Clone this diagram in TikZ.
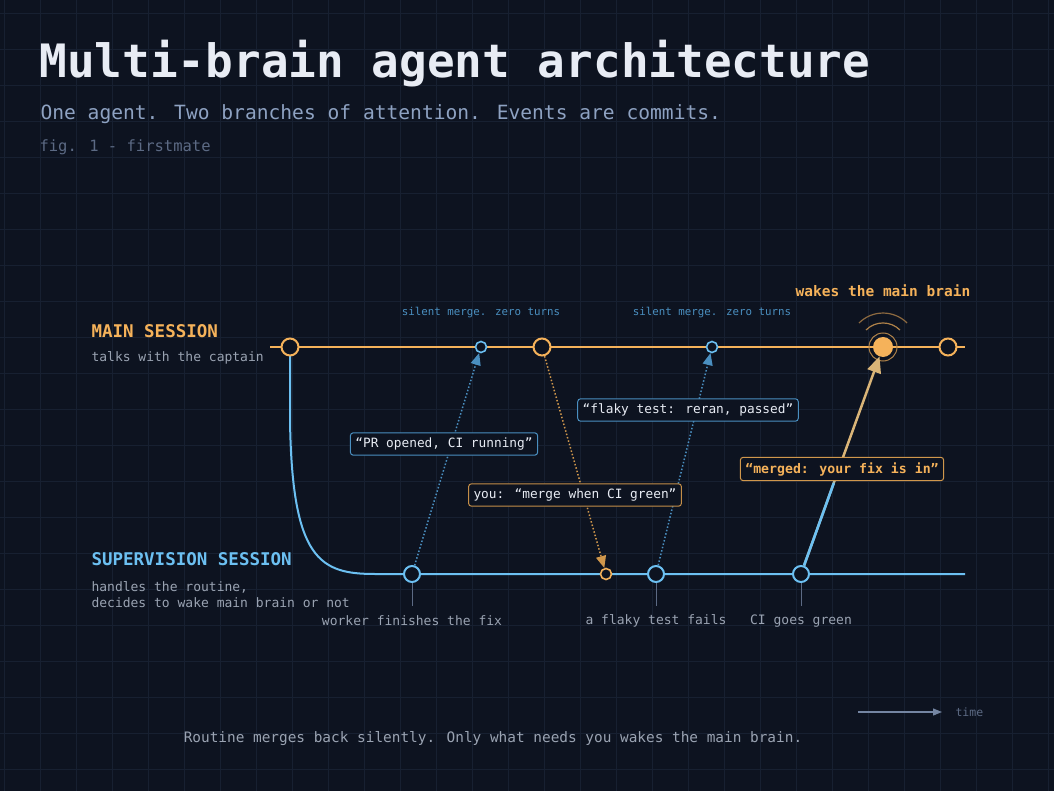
\documentclass[tikz,border=0pt]{standalone}
\usepackage{fontspec}
\setmainfont{DejaVu Sans Mono}
\usetikzlibrary{arrows.meta,calc}
\definecolor{bg}{HTML}{0D1320}
\definecolor{gridc}{HTML}{172031}
\definecolor{org}{HTML}{F5B25A}
\definecolor{blu}{HTML}{6CC0F2}
\definecolor{dblu}{HTML}{4A8FC0}
\definecolor{txt}{HTML}{E8ECF4}
\definecolor{sub}{HTML}{8EA2C2}
\definecolor{dim}{HTML}{5C6A84}
\definecolor{gr}{HTML}{9AA3B2}
\definecolor{boxbg}{HTML}{0D1320}
\tikzset{
 x=1pt,y=-1pt,
 big/.style={circle,draw=#1,line width=2pt,fill=bg,minimum size=17pt,inner sep=0},
 small/.style={circle,draw=#1,line width=1.6pt,fill=bg,minimum size=11pt,inner sep=0},
 msg/.style={draw=#1,text=txt,rounded corners=3pt,fill=boxbg,line width=1pt,font=\fontsize{12.8}{15}\selectfont,inner sep=5pt},
 lbl/.style={font=\fontsize{13}{15}\selectfont,text=gr},
 tiny/.style={font=\fontsize{10.8}{12}\selectfont,text=dblu},
}
\begin{document}
\begin{tikzpicture}
\fill[bg] (0,0) rectangle (1054,791);
\useasboundingbox (0,0) rectangle (1054,791);
\foreach \i in {0,36,...,1054} \draw[gridc,line width=0.5pt] (\i+4,0) -- (\i+4,791);
\foreach \i in {0,36,...,791} \draw[gridc,line width=0.5pt] (0,\i+13) -- (1054,\i+13);
% titles
\node[anchor=west,text=txt,font=\fontsize{46}{50}\selectfont\bfseries] (title) at (36,64) {Multi-brain agent architecture};
\node[anchor=west,text=sub,font=\fontsize{19.6}{22}\selectfont] (subt) at (37,114) {One agent. Two branches of attention. Events are commits.};
\node[anchor=west,text=dim,font=\fontsize{15.5}{17}\selectfont] (fig) at (36,147) {fig. 1 - firstmate};
% lanes labels
\node[anchor=west,text=org,font=\fontsize{17.5}{20}\selectfont\bfseries] (ms) at (88,331) {MAIN SESSION};
\node[anchor=west,lbl] (ms2) at (88,358) {talks with the captain};
\node[anchor=west,text=blu,font=\fontsize{17.5}{20}\selectfont\bfseries] (ss) at (88,559) {SUPERVISION SESSION};
\node[anchor=west,lbl,align=left] (ss2) at (88,595) {handles the routine,\\[1pt]decides to wake main brain or not};
% lines
\coordinate (mL) at (270,347); \coordinate (mR) at (965,347);
\coordinate (sR) at (965,574);
\draw[org,line width=2pt] (mL) -- (mR);
\draw[blu,line width=2pt] (290,347) -- (290,420) .. controls (292,560) and (320,574) .. (375,574) -- (sR);
% ticks
\foreach \x in {412,656,801} \draw[dim,line width=1pt] (\x,574) -- (\x,606);
% nodes
\node[big=org] (m1) at (290,347) {};
\node[small=blu] (m2) at (481,347) {};
\node[big=org] (m3) at (542,347) {};
\node[small=blu] (m4) at (712,347) {};
\node[big=org] (m6) at (948,347) {};
\draw[org!70!bg,line width=1pt] (883,347) circle (14);
\draw[org!70!bg,line width=1.2pt] (866,330) arc[start angle=-135,end angle=-45,radius=24];
\draw[org!55!bg,line width=1.2pt] (859,323) arc[start angle=-135,end angle=-45,radius=34];
\node[circle,fill=org,minimum size=20pt,inner sep=0] (m5) at (883,347) {};
\node[big=blu,minimum size=16pt] (s1) at (412,574) {};
\node[small=org] (s2) at (606,574) {};
\node[big=blu,minimum size=16pt] (s3) at (656,574) {};
\node[big=blu,minimum size=16pt] (s4) at (801,574) {};
% arrows
\draw[dblu,line width=1.5pt,dotted,-{Triangle[width=10pt,length=12pt]}] (s1) -- (m2);
\draw[dblu,line width=1.5pt,dotted,-{Triangle[width=10pt,length=12pt]}] (s3) -- (m4);
\draw[org!85!black,line width=1.5pt,dotted,-{Triangle[width=10pt,length=12pt]}] (m3) -- (s2);
\coordinate (mid) at (842,460);
\draw[blu!50!org,line width=2.5pt] (s4) -- (mid);
\draw[blu,line width=2.5pt] (s4) -- ($(s4)!0.4!(m5)$);
\draw[org!80!blu,line width=2.5pt,-{Triangle[width=14pt,length=16pt]}] (mid) -- (m5);
% top labels
\node[tiny] (t1) at (481,313) {silent merge. zero turns};
\node[tiny] (t2) at (712,313) {silent merge. zero turns};
\node[text=org,font=\fontsize{14.5}{16}\selectfont\bfseries] (wk) at (883,291) {wakes the main brain};
% message boxes
\node[msg=dblu] (b1) at (444,444) {“PR opened, CI running”};
\node[msg=dblu] (b3) at (688,410) {“flaky test: reran, passed”};
\node[msg=org!80!black] (b2) at (575,495) {you: “merge when CI green”};
\node[msg=org!85!black,text=org,font=\fontsize{13.2}{15}\selectfont\bfseries] (b4) at (842,469) {“merged: your fix is in”};
% bottom labels
\node[lbl] (l1) at (412,621) {worker finishes the fix};
\node[lbl] (l2) at (656,621) {a flaky test fails};
\node[lbl] (l3) at (801,621) {CI goes green};
\coordinate (ta) at (858,712); \coordinate (tb) at (942,712);
\draw[sub!80!bg,line width=1.2pt,-{Triangle[width=7pt,length=9pt]}] (ta) -- (tb);
\node[anchor=west,text=dim,font=\fontsize{11.5}{13}\selectfont] (time) at (952,712) {time};
\node[text=gr,font=\fontsize{14.4}{16}\selectfont] (cap) at (493,739) {Routine merges back silently. Only what needs you wakes the main brain.};
\end{tikzpicture}
\end{document}
